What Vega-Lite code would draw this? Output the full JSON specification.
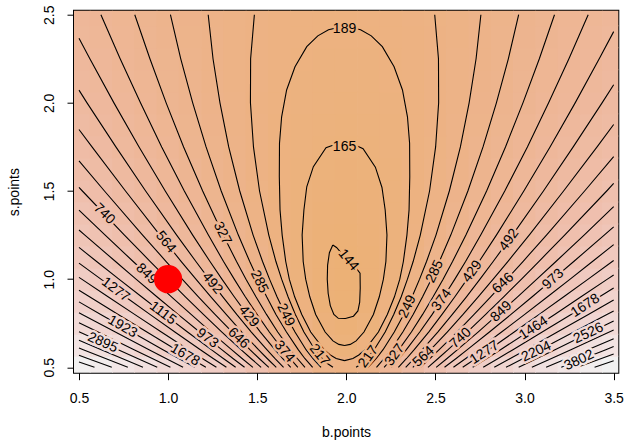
{
"$schema":"https://vega.github.io/schema/vega-lite/v6.json",
"width":544.3,"height":362,
"autosize":{"type":"none"},
"padding":{"left":74,"top":10.7,"right":6.7,"bottom":71.3},
"background":"white",
"config":{
 "font":"Liberation Sans",
 "view":{"stroke":"black","strokeWidth":2},
 "axis":{"grid":false,"domain":false,"tickSize":7,"tickColor":"black","tickWidth":1,"labelColor":"black","labelFontSize":14,"labelFont":"Liberation Sans","titleFont":"Liberation Sans","titleFontSize":14,"titleFontWeight":"normal","titleColor":"black","labelFlush":false,"labelOverlap":false},
 "style":{
  "halo":{"fontSize":14,"strokeWidth":5,"strokeJoin":"round","align":"center","baseline":"middle"},
  "lab":{"fontSize":14,"fill":"black","align":"center","baseline":"middle"}
 }
},
"datasets":{
"grid":[
{"b":0.5,"s":0.5,"z":5606},{"b":0.625,"s":0.5,"z":4738},{"b":0.75,"s":0.5,"z":3946},{"b":0.875,"s":0.5,"z":3230},{"b":1,"s":0.5,"z":2590},{"b":1.125,"s":0.5,"z":2026},{"b":1.25,"s":0.5,"z":1539},{"b":1.375,"s":0.5,"z":1127},{"b":1.5,"s":0.5,"z":791},{"b":1.625,"s":0.5,"z":531},{"b":1.75,"s":0.5,"z":347},{"b":1.875,"s":0.5,"z":239},{"b":2,"s":0.5,"z":207},{"b":2.125,"s":0.5,"z":251},{"b":2.25,"s":0.5,"z":371},{"b":2.375,"s":0.5,"z":567},{"b":2.5,"s":0.5,"z":839},{"b":2.625,"s":0.5,"z":1187},{"b":2.75,"s":0.5,"z":1612},{"b":2.875,"s":0.5,"z":2112},{"b":3,"s":0.5,"z":2688},{"b":3.125,"s":0.5,"z":3340},{"b":3.25,"s":0.5,"z":4068},{"b":3.375,"s":0.5,"z":4872},{"b":3.5,"s":0.5,"z":5752},
{"b":0.5,"s":0.625,"z":3620},{"b":0.625,"s":0.625,"z":3065},{"b":0.75,"s":0.625,"z":2558},{"b":0.875,"s":0.625,"z":2100},{"b":1,"s":0.625,"z":1690},{"b":1.125,"s":0.625,"z":1329},{"b":1.25,"s":0.625,"z":1017},{"b":1.375,"s":0.625,"z":753},{"b":1.5,"s":0.625,"z":538},{"b":1.625,"s":0.625,"z":372},{"b":1.75,"s":0.625,"z":254},{"b":1.875,"s":0.625,"z":185},{"b":2,"s":0.625,"z":165},{"b":2.125,"s":0.625,"z":193},{"b":2.25,"s":0.625,"z":270},{"b":2.375,"s":0.625,"z":395},{"b":2.5,"s":0.625,"z":570},{"b":2.625,"s":0.625,"z":792},{"b":2.75,"s":0.625,"z":1064},{"b":2.875,"s":0.625,"z":1384},{"b":3,"s":0.625,"z":1752},{"b":3.125,"s":0.625,"z":2170},{"b":3.25,"s":0.625,"z":2636},{"b":3.375,"s":0.625,"z":3150},{"b":3.5,"s":0.625,"z":3714},
{"b":0.5,"s":0.75,"z":2548},{"b":0.625,"s":0.75,"z":2162},{"b":0.75,"s":0.75,"z":1810},{"b":0.875,"s":0.75,"z":1492},{"b":1,"s":0.75,"z":1207},{"b":1.125,"s":0.75,"z":957},{"b":1.25,"s":0.75,"z":740},{"b":1.375,"s":0.75,"z":557},{"b":1.5,"s":0.75,"z":407},{"b":1.625,"s":0.75,"z":292},{"b":1.75,"s":0.75,"z":210},{"b":1.875,"s":0.75,"z":162},{"b":2,"s":0.75,"z":148},{"b":2.125,"s":0.75,"z":168},{"b":2.25,"s":0.75,"z":221},{"b":2.375,"s":0.75,"z":308},{"b":2.5,"s":0.75,"z":429},{"b":2.625,"s":0.75,"z":584},{"b":2.75,"s":0.75,"z":772},{"b":2.875,"s":0.75,"z":994},{"b":3,"s":0.75,"z":1250},{"b":3.125,"s":0.75,"z":1540},{"b":3.25,"s":0.75,"z":1864},{"b":3.375,"s":0.75,"z":2221},{"b":3.5,"s":0.75,"z":2612},
{"b":0.5,"s":0.875,"z":1905},{"b":0.625,"s":0.875,"z":1621},{"b":0.75,"s":0.875,"z":1363},{"b":0.875,"s":0.875,"z":1129},{"b":1,"s":0.875,"z":920},{"b":1.125,"s":0.875,"z":736},{"b":1.25,"s":0.875,"z":577},{"b":1.375,"s":0.875,"z":442},{"b":1.5,"s":0.875,"z":332},{"b":1.625,"s":0.875,"z":248},{"b":1.75,"s":0.875,"z":188},{"b":1.875,"s":0.875,"z":152},{"b":2,"s":0.875,"z":142},{"b":2.125,"s":0.875,"z":156},{"b":2.25,"s":0.875,"z":196},{"b":2.375,"s":0.875,"z":260},{"b":2.5,"s":0.875,"z":348},{"b":2.625,"s":0.875,"z":462},{"b":2.75,"s":0.875,"z":601},{"b":2.875,"s":0.875,"z":764},{"b":3,"s":0.875,"z":952},{"b":3.125,"s":0.875,"z":1165},{"b":3.25,"s":0.875,"z":1403},{"b":3.375,"s":0.875,"z":1665},{"b":3.5,"s":0.875,"z":1952},
{"b":0.5,"s":1,"z":1491},{"b":0.625,"s":1,"z":1274},{"b":0.75,"s":1,"z":1076},{"b":0.875,"s":1,"z":897},{"b":1,"s":1,"z":737},{"b":1.125,"s":1,"z":596},{"b":1.25,"s":1,"z":474},{"b":1.375,"s":1,"z":371},{"b":1.5,"s":1,"z":287},{"b":1.625,"s":1,"z":222},{"b":1.75,"s":1,"z":176},{"b":1.875,"s":1,"z":149},{"b":2,"s":1,"z":141},{"b":2.125,"s":1,"z":152},{"b":2.25,"s":1,"z":182},{"b":2.375,"s":1,"z":231},{"b":2.5,"s":1,"z":299},{"b":2.625,"s":1,"z":386},{"b":2.75,"s":1,"z":492},{"b":2.875,"s":1,"z":617},{"b":3,"s":1,"z":761},{"b":3.125,"s":1,"z":924},{"b":3.25,"s":1,"z":1106},{"b":3.375,"s":1,"z":1307},{"b":3.5,"s":1,"z":1527},
{"b":0.5,"s":1.125,"z":1210},{"b":0.625,"s":1.125,"z":1038},{"b":0.75,"s":1.125,"z":882},{"b":0.875,"s":1.125,"z":740},{"b":1,"s":1.125,"z":614},{"b":1.125,"s":1.125,"z":503},{"b":1.25,"s":1.125,"z":406},{"b":1.375,"s":1.125,"z":325},{"b":1.5,"s":1.125,"z":259},{"b":1.625,"s":1.125,"z":207},{"b":1.75,"s":1.125,"z":171},{"b":1.875,"s":1.125,"z":150},{"b":2,"s":1.125,"z":143},{"b":2.125,"s":1.125,"z":152},{"b":2.25,"s":1.125,"z":176},{"b":2.375,"s":1.125,"z":214},{"b":2.5,"s":1.125,"z":268},{"b":2.625,"s":1.125,"z":337},{"b":2.75,"s":1.125,"z":421},{"b":2.875,"s":1.125,"z":520},{"b":3,"s":1.125,"z":633},{"b":3.125,"s":1.125,"z":762},{"b":3.25,"s":1.125,"z":906},{"b":3.375,"s":1.125,"z":1065},{"b":3.5,"s":1.125,"z":1239},
{"b":0.5,"s":1.25,"z":1011},{"b":0.625,"s":1.25,"z":872},{"b":0.75,"s":1.25,"z":745},{"b":0.875,"s":1.25,"z":630},{"b":1,"s":1.25,"z":528},{"b":1.125,"s":1.25,"z":438},{"b":1.25,"s":1.25,"z":360},{"b":1.375,"s":1.25,"z":294},{"b":1.5,"s":1.25,"z":240},{"b":1.625,"s":1.25,"z":199},{"b":1.75,"s":1.25,"z":169},{"b":1.875,"s":1.25,"z":152},{"b":2,"s":1.25,"z":147},{"b":2.125,"s":1.25,"z":154},{"b":2.25,"s":1.25,"z":173},{"b":2.375,"s":1.25,"z":204},{"b":2.5,"s":1.25,"z":248},{"b":2.625,"s":1.25,"z":304},{"b":2.75,"s":1.25,"z":371},{"b":2.875,"s":1.25,"z":451},{"b":3,"s":1.25,"z":544},{"b":3.125,"s":1.25,"z":648},{"b":3.25,"s":1.25,"z":764},{"b":3.375,"s":1.25,"z":893},{"b":3.5,"s":1.25,"z":1034},
{"b":0.5,"s":1.375,"z":865},{"b":0.625,"s":1.375,"z":750},{"b":0.75,"s":1.375,"z":645},{"b":0.875,"s":1.375,"z":551},{"b":1,"s":1.375,"z":466},{"b":1.125,"s":1.375,"z":392},{"b":1.25,"s":1.375,"z":327},{"b":1.375,"s":1.375,"z":273},{"b":1.5,"s":1.375,"z":228},{"b":1.625,"s":1.375,"z":194},{"b":1.75,"s":1.375,"z":169},{"b":1.875,"s":1.375,"z":155},{"b":2,"s":1.375,"z":151},{"b":2.125,"s":1.375,"z":157},{"b":2.25,"s":1.375,"z":173},{"b":2.375,"s":1.375,"z":199},{"b":2.5,"s":1.375,"z":235},{"b":2.625,"s":1.375,"z":281},{"b":2.75,"s":1.375,"z":337},{"b":2.875,"s":1.375,"z":403},{"b":3,"s":1.375,"z":479},{"b":3.125,"s":1.375,"z":565},{"b":3.25,"s":1.375,"z":662},{"b":3.375,"s":1.375,"z":768},{"b":3.5,"s":1.375,"z":884},
{"b":0.5,"s":1.5,"z":756},{"b":0.625,"s":1.5,"z":659},{"b":0.75,"s":1.5,"z":571},{"b":0.875,"s":1.5,"z":492},{"b":1,"s":1.5,"z":420},{"b":1.125,"s":1.5,"z":358},{"b":1.25,"s":1.5,"z":304},{"b":1.375,"s":1.5,"z":258},{"b":1.5,"s":1.5,"z":221},{"b":1.625,"s":1.5,"z":192},{"b":1.75,"s":1.5,"z":171},{"b":1.875,"s":1.5,"z":159},{"b":2,"s":1.5,"z":156},{"b":2.125,"s":1.5,"z":161},{"b":2.25,"s":1.5,"z":174},{"b":2.375,"s":1.5,"z":196},{"b":2.5,"s":1.5,"z":226},{"b":2.625,"s":1.5,"z":265},{"b":2.75,"s":1.5,"z":312},{"b":2.875,"s":1.5,"z":367},{"b":3,"s":1.5,"z":431},{"b":3.125,"s":1.5,"z":504},{"b":3.25,"s":1.5,"z":585},{"b":3.375,"s":1.5,"z":674},{"b":3.5,"s":1.5,"z":772},
{"b":0.5,"s":1.625,"z":672},{"b":0.625,"s":1.625,"z":589},{"b":0.75,"s":1.625,"z":514},{"b":0.875,"s":1.625,"z":447},{"b":1,"s":1.625,"z":386},{"b":1.125,"s":1.625,"z":333},{"b":1.25,"s":1.625,"z":286},{"b":1.375,"s":1.625,"z":247},{"b":1.5,"s":1.625,"z":216},{"b":1.625,"s":1.625,"z":191},{"b":1.75,"s":1.625,"z":174},{"b":1.875,"s":1.625,"z":163},{"b":2,"s":1.625,"z":160},{"b":2.125,"s":1.625,"z":165},{"b":2.25,"s":1.625,"z":176},{"b":2.375,"s":1.625,"z":195},{"b":2.5,"s":1.625,"z":220},{"b":2.625,"s":1.625,"z":253},{"b":2.75,"s":1.625,"z":293},{"b":2.875,"s":1.625,"z":341},{"b":3,"s":1.625,"z":395},{"b":3.125,"s":1.625,"z":457},{"b":3.25,"s":1.625,"z":526},{"b":3.375,"s":1.625,"z":602},{"b":3.5,"s":1.625,"z":685},
{"b":0.5,"s":1.75,"z":606},{"b":0.625,"s":1.75,"z":535},{"b":0.75,"s":1.75,"z":470},{"b":0.875,"s":1.75,"z":412},{"b":1,"s":1.75,"z":360},{"b":1.125,"s":1.75,"z":314},{"b":1.25,"s":1.75,"z":274},{"b":1.375,"s":1.75,"z":240},{"b":1.5,"s":1.75,"z":213},{"b":1.625,"s":1.75,"z":192},{"b":1.75,"s":1.75,"z":177},{"b":1.875,"s":1.75,"z":168},{"b":2,"s":1.75,"z":165},{"b":2.125,"s":1.75,"z":169},{"b":2.25,"s":1.75,"z":179},{"b":2.375,"s":1.75,"z":195},{"b":2.5,"s":1.75,"z":217},{"b":2.625,"s":1.75,"z":245},{"b":2.75,"s":1.75,"z":280},{"b":2.875,"s":1.75,"z":321},{"b":3,"s":1.75,"z":368},{"b":3.125,"s":1.75,"z":421},{"b":3.25,"s":1.75,"z":480},{"b":3.375,"s":1.75,"z":546},{"b":3.5,"s":1.75,"z":618},
{"b":0.5,"s":1.875,"z":554},{"b":0.625,"s":1.875,"z":492},{"b":0.75,"s":1.875,"z":436},{"b":0.875,"s":1.875,"z":385},{"b":1,"s":1.875,"z":340},{"b":1.125,"s":1.875,"z":299},{"b":1.25,"s":1.875,"z":265},{"b":1.375,"s":1.875,"z":235},{"b":1.5,"s":1.875,"z":212},{"b":1.625,"s":1.875,"z":193},{"b":1.75,"s":1.875,"z":180},{"b":1.875,"s":1.875,"z":172},{"b":2,"s":1.875,"z":170},{"b":2.125,"s":1.875,"z":173},{"b":2.25,"s":1.875,"z":182},{"b":2.375,"s":1.875,"z":196},{"b":2.5,"s":1.875,"z":215},{"b":2.625,"s":1.875,"z":240},{"b":2.75,"s":1.875,"z":270},{"b":2.875,"s":1.875,"z":305},{"b":3,"s":1.875,"z":346},{"b":3.125,"s":1.875,"z":393},{"b":3.25,"s":1.875,"z":445},{"b":3.375,"s":1.875,"z":502},{"b":3.5,"s":1.875,"z":564},
{"b":0.5,"s":2,"z":512},{"b":0.625,"s":2,"z":458},{"b":0.75,"s":2,"z":408},{"b":0.875,"s":2,"z":364},{"b":1,"s":2,"z":324},{"b":1.125,"s":2,"z":288},{"b":1.25,"s":2,"z":258},{"b":1.375,"s":2,"z":232},{"b":1.5,"s":2,"z":211},{"b":1.625,"s":2,"z":195},{"b":1.75,"s":2,"z":183},{"b":1.875,"s":2,"z":177},{"b":2,"s":2,"z":175},{"b":2.125,"s":2,"z":177},{"b":2.25,"s":2,"z":185},{"b":2.375,"s":2,"z":197},{"b":2.5,"s":2,"z":214},{"b":2.625,"s":2,"z":236},{"b":2.75,"s":2,"z":262},{"b":2.875,"s":2,"z":294},{"b":3,"s":2,"z":330},{"b":3.125,"s":2,"z":370},{"b":3.25,"s":2,"z":416},{"b":3.375,"s":2,"z":466},{"b":3.5,"s":2,"z":521},
{"b":0.5,"s":2.125,"z":478},{"b":0.625,"s":2.125,"z":430},{"b":0.75,"s":2.125,"z":386},{"b":0.875,"s":2.125,"z":347},{"b":1,"s":2.125,"z":311},{"b":1.125,"s":2.125,"z":280},{"b":1.25,"s":2.125,"z":253},{"b":1.375,"s":2.125,"z":230},{"b":1.5,"s":2.125,"z":212},{"b":1.625,"s":2.125,"z":197},{"b":1.75,"s":2.125,"z":187},{"b":1.875,"s":2.125,"z":181},{"b":2,"s":2.125,"z":179},{"b":2.125,"s":2.125,"z":182},{"b":2.25,"s":2.125,"z":188},{"b":2.375,"s":2.125,"z":199},{"b":2.5,"s":2.125,"z":214},{"b":2.625,"s":2.125,"z":234},{"b":2.75,"s":2.125,"z":257},{"b":2.875,"s":2.125,"z":285},{"b":3,"s":2.125,"z":317},{"b":3.125,"s":2.125,"z":353},{"b":3.25,"s":2.125,"z":393},{"b":3.375,"s":2.125,"z":437},{"b":3.5,"s":2.125,"z":486},
{"b":0.5,"s":2.25,"z":450},{"b":0.625,"s":2.25,"z":407},{"b":0.75,"s":2.25,"z":368},{"b":0.875,"s":2.25,"z":333},{"b":1,"s":2.25,"z":301},{"b":1.125,"s":2.25,"z":274},{"b":1.25,"s":2.25,"z":249},{"b":1.375,"s":2.25,"z":229},{"b":1.5,"s":2.25,"z":212},{"b":1.625,"s":2.25,"z":200},{"b":1.75,"s":2.25,"z":191},{"b":1.875,"s":2.25,"z":185},{"b":2,"s":2.25,"z":184},{"b":2.125,"s":2.25,"z":186},{"b":2.25,"s":2.25,"z":192},{"b":2.375,"s":2.25,"z":201},{"b":2.5,"s":2.25,"z":215},{"b":2.625,"s":2.25,"z":232},{"b":2.75,"s":2.25,"z":253},{"b":2.875,"s":2.25,"z":278},{"b":3,"s":2.25,"z":306},{"b":3.125,"s":2.25,"z":338},{"b":3.25,"s":2.25,"z":374},{"b":3.375,"s":2.25,"z":414},{"b":3.5,"s":2.25,"z":457},
{"b":0.5,"s":2.375,"z":427},{"b":0.625,"s":2.375,"z":389},{"b":0.75,"s":2.375,"z":354},{"b":0.875,"s":2.375,"z":322},{"b":1,"s":2.375,"z":294},{"b":1.125,"s":2.375,"z":269},{"b":1.25,"s":2.375,"z":247},{"b":1.375,"s":2.375,"z":229},{"b":1.5,"s":2.375,"z":214},{"b":1.625,"s":2.375,"z":202},{"b":1.75,"s":2.375,"z":194},{"b":1.875,"s":2.375,"z":189},{"b":2,"s":2.375,"z":188},{"b":2.125,"s":2.375,"z":190},{"b":2.25,"s":2.375,"z":195},{"b":2.375,"s":2.375,"z":204},{"b":2.5,"s":2.375,"z":216},{"b":2.625,"s":2.375,"z":231},{"b":2.75,"s":2.375,"z":250},{"b":2.875,"s":2.375,"z":272},{"b":3,"s":2.375,"z":298},{"b":3.125,"s":2.375,"z":327},{"b":3.25,"s":2.375,"z":359},{"b":3.375,"s":2.375,"z":395},{"b":3.5,"s":2.375,"z":434},
{"b":0.5,"s":2.5,"z":408},{"b":0.625,"s":2.5,"z":373},{"b":0.75,"s":2.5,"z":342},{"b":0.875,"s":2.5,"z":313},{"b":1,"s":2.5,"z":287},{"b":1.125,"s":2.5,"z":265},{"b":1.25,"s":2.5,"z":245},{"b":1.375,"s":2.5,"z":229},{"b":1.5,"s":2.5,"z":215},{"b":1.625,"s":2.5,"z":205},{"b":1.75,"s":2.5,"z":198},{"b":1.875,"s":2.5,"z":193},{"b":2,"s":2.5,"z":192},{"b":2.125,"s":2.5,"z":194},{"b":2.25,"s":2.5,"z":199},{"b":2.375,"s":2.5,"z":206},{"b":2.5,"s":2.5,"z":217},{"b":2.625,"s":2.5,"z":231},{"b":2.75,"s":2.5,"z":248},{"b":2.875,"s":2.5,"z":268},{"b":3,"s":2.5,"z":291},{"b":3.125,"s":2.5,"z":317},{"b":3.25,"s":2.5,"z":347},{"b":3.375,"s":2.5,"z":379},{"b":3.5,"s":2.5,"z":414}
],
"lines":[
{"line":"144","b":1.924,"s":1.194},{"line":"144","b":1.905,"s":1.15},{"line":"144","b":1.895,"s":1.08},{"line":"144","b":1.893,"s":1.0},{"line":"144","b":1.898,"s":0.92},{"line":"144","b":1.91,"s":0.85},{"line":"144","b":1.93,"s":0.8},{"line":"144","b":1.955,"s":0.778},{"line":"144","b":1.995,"s":0.777},{"line":"144","b":2.04,"s":0.79},{"line":"144","b":2.065,"s":0.82},{"line":"144","b":2.075,"s":0.87},{"line":"144","b":2.078,"s":0.95},{"line":"144","b":2.077,"s":1.034},{"line":"144","b":2.045,"s":1.075},{"line":"144","b":2.011,"s":1.109},{"line":"144","b":1.97,"s":1.15},{"line":"144","b":1.945,"s":1.18},{"line":"144","b":1.924,"s":1.194},
{"line":"165","b":1.99,"s":0.624},{"line":"165","b":1.958,"s":0.63},{"line":"165","b":1.925,"s":0.65},{"line":"165","b":1.881,"s":0.7},{"line":"165","b":1.828,"s":0.8},{"line":"165","b":1.795,"s":0.9},{"line":"165","b":1.772,"s":1.0},{"line":"165","b":1.758,"s":1.1},{"line":"165","b":1.752,"s":1.25},{"line":"165","b":1.762,"s":1.392},{"line":"165","b":1.778,"s":1.524},{"line":"165","b":1.815,"s":1.638},{"line":"165","b":1.886,"s":1.745},{"line":"165","b":1.94,"s":1.765},{"line":"165","b":1.99,"s":1.77},{"line":"165","b":2.04,"s":1.765},{"line":"165","b":2.094,"s":1.74},{"line":"165","b":2.163,"s":1.635},{"line":"165","b":2.2,"s":1.52},{"line":"165","b":2.218,"s":1.392},{"line":"165","b":2.228,"s":1.25},{"line":"165","b":2.222,"s":1.1},{"line":"165","b":2.208,"s":1.0},{"line":"165","b":2.185,"s":0.9},{"line":"165","b":2.152,"s":0.8},{"line":"165","b":2.099,"s":0.7},{"line":"165","b":2.055,"s":0.65},{"line":"165","b":2.022,"s":0.63},{"line":"165","b":1.99,"s":0.624},
{"line":"189","b":1.99,"s":0.538},{"line":"189","b":1.943,"s":0.55},{"line":"189","b":1.91,"s":0.57},{"line":"189","b":1.875,"s":0.6},{"line":"189","b":1.8,"s":0.7},{"line":"189","b":1.75,"s":0.8},{"line":"189","b":1.71,"s":0.9},{"line":"189","b":1.68,"s":1.0},{"line":"189","b":1.66,"s":1.1},{"line":"189","b":1.64,"s":1.25},{"line":"189","b":1.628,"s":1.393},{"line":"189","b":1.624,"s":1.581},{"line":"189","b":1.625,"s":1.771},{"line":"189","b":1.637,"s":1.921},{"line":"189","b":1.665,"s":2.073},{"line":"189","b":1.712,"s":2.205},{"line":"189","b":1.778,"s":2.319},{"line":"189","b":1.84,"s":2.38},{"line":"189","b":1.9,"s":2.415},{"line":"189","b":1.99,"s":2.435},{"line":"189","b":2.08,"s":2.415},{"line":"189","b":2.14,"s":2.38},{"line":"189","b":2.202,"s":2.319},{"line":"189","b":2.268,"s":2.205},{"line":"189","b":2.315,"s":2.073},{"line":"189","b":2.343,"s":1.921},{"line":"189","b":2.355,"s":1.771},{"line":"189","b":2.356,"s":1.581},{"line":"189","b":2.352,"s":1.393},{"line":"189","b":2.34,"s":1.25},{"line":"189","b":2.32,"s":1.1},{"line":"189","b":2.3,"s":1.0},{"line":"189","b":2.27,"s":0.9},{"line":"189","b":2.23,"s":0.8},{"line":"189","b":2.18,"s":0.7},{"line":"189","b":2.105,"s":0.6},{"line":"189","b":2.07,"s":0.57},{"line":"189","b":2.037,"s":0.55},{"line":"189","b":1.99,"s":0.538},
{"line":"217L","b":1.925,"s":0.5},{"line":"217L","b":1.896,"s":0.52},{"line":"217L","b":1.865,"s":0.55},{"line":"217L","b":1.824,"s":0.6},{"line":"217L","b":1.762,"s":0.7},{"line":"217L","b":1.714,"s":0.8},{"line":"217L","b":1.673,"s":0.9},{"line":"217L","b":1.637,"s":1},{"line":"217L","b":1.605,"s":1.1},{"line":"217L","b":1.565,"s":1.25},{"line":"217L","b":1.513,"s":1.5},{"line":"217L","b":1.479,"s":1.75},{"line":"217L","b":1.462,"s":2},{"line":"217L","b":1.463,"s":2.25},{"line":"217L","b":1.484,"s":2.5},
{"line":"217R","b":2.055,"s":0.5},{"line":"217R","b":2.084,"s":0.52},{"line":"217R","b":2.116,"s":0.55},{"line":"217R","b":2.156,"s":0.6},{"line":"217R","b":2.218,"s":0.7},{"line":"217R","b":2.266,"s":0.8},{"line":"217R","b":2.308,"s":0.9},{"line":"217R","b":2.343,"s":1},{"line":"217R","b":2.375,"s":1.1},{"line":"217R","b":2.415,"s":1.25},{"line":"217R","b":2.467,"s":1.5},{"line":"217R","b":2.501,"s":1.75},{"line":"217R","b":2.518,"s":2},{"line":"217R","b":2.517,"s":2.25},{"line":"217R","b":2.496,"s":2.5},
{"line":"249L","b":1.858,"s":0.5},{"line":"249L","b":1.812,"s":0.55},{"line":"249L","b":1.774,"s":0.6},{"line":"249L","b":1.712,"s":0.7},{"line":"249L","b":1.658,"s":0.8},{"line":"249L","b":1.611,"s":0.9},{"line":"249L","b":1.569,"s":1},{"line":"249L","b":1.53,"s":1.1},{"line":"249L","b":1.477,"s":1.25},{"line":"249L","b":1.402,"s":1.5},{"line":"249L","b":1.34,"s":1.75},{"line":"249L","b":1.291,"s":2},{"line":"249L","b":1.252,"s":2.25},{"line":"249L","b":1.225,"s":2.5},
{"line":"249R","b":2.122,"s":0.5},{"line":"249R","b":2.168,"s":0.55},{"line":"249R","b":2.206,"s":0.6},{"line":"249R","b":2.269,"s":0.7},{"line":"249R","b":2.322,"s":0.8},{"line":"249R","b":2.369,"s":0.9},{"line":"249R","b":2.411,"s":1},{"line":"249R","b":2.45,"s":1.1},{"line":"249R","b":2.503,"s":1.25},{"line":"249R","b":2.578,"s":1.5},{"line":"249R","b":2.64,"s":1.75},{"line":"249R","b":2.689,"s":2},{"line":"249R","b":2.728,"s":2.25},{"line":"249R","b":2.755,"s":2.5},
{"line":"285L","b":1.811,"s":0.5},{"line":"285L","b":1.767,"s":0.55},{"line":"285L","b":1.73,"s":0.6},{"line":"285L","b":1.664,"s":0.7},{"line":"285L","b":1.605,"s":0.8},{"line":"285L","b":1.553,"s":0.9},{"line":"285L","b":1.504,"s":1},{"line":"285L","b":1.458,"s":1.1},{"line":"285L","b":1.394,"s":1.25},{"line":"285L","b":1.298,"s":1.5},{"line":"285L","b":1.213,"s":1.75},{"line":"285L","b":1.138,"s":2},{"line":"285L","b":1.071,"s":2.25},{"line":"285L","b":1.013,"s":2.5},
{"line":"285R","b":2.169,"s":0.5},{"line":"285R","b":2.213,"s":0.55},{"line":"285R","b":2.251,"s":0.6},{"line":"285R","b":2.317,"s":0.7},{"line":"285R","b":2.375,"s":0.8},{"line":"285R","b":2.428,"s":0.9},{"line":"285R","b":2.477,"s":1},{"line":"285R","b":2.522,"s":1.1},{"line":"285R","b":2.586,"s":1.25},{"line":"285R","b":2.682,"s":1.5},{"line":"285R","b":2.767,"s":1.75},{"line":"285R","b":2.842,"s":2},{"line":"285R","b":2.909,"s":2.25},{"line":"285R","b":2.967,"s":2.5},
{"line":"327L","b":1.768,"s":0.5},{"line":"327L","b":1.725,"s":0.55},{"line":"327L","b":1.686,"s":0.6},{"line":"327L","b":1.615,"s":0.7},{"line":"327L","b":1.552,"s":0.8},{"line":"327L","b":1.493,"s":0.9},{"line":"327L","b":1.437,"s":1},{"line":"327L","b":1.384,"s":1.1},{"line":"327L","b":1.309,"s":1.25},{"line":"327L","b":1.194,"s":1.5},{"line":"327L","b":1.087,"s":1.75},{"line":"327L","b":0.989,"s":2},{"line":"327L","b":0.898,"s":2.25},{"line":"327L","b":0.813,"s":2.5},
{"line":"327R","b":2.212,"s":0.5},{"line":"327R","b":2.256,"s":0.55},{"line":"327R","b":2.295,"s":0.6},{"line":"327R","b":2.365,"s":0.7},{"line":"327R","b":2.428,"s":0.8},{"line":"327R","b":2.487,"s":0.9},{"line":"327R","b":2.543,"s":1},{"line":"327R","b":2.596,"s":1.1},{"line":"327R","b":2.671,"s":1.25},{"line":"327R","b":2.787,"s":1.5},{"line":"327R","b":2.893,"s":1.75},{"line":"327R","b":2.991,"s":2},{"line":"327R","b":3.083,"s":2.25},{"line":"327R","b":3.168,"s":2.5},
{"line":"374L","b":1.728,"s":0.5},{"line":"374L","b":1.684,"s":0.55},{"line":"374L","b":1.643,"s":0.6},{"line":"374L","b":1.568,"s":0.7},{"line":"374L","b":1.499,"s":0.8},{"line":"374L","b":1.433,"s":0.9},{"line":"374L","b":1.371,"s":1},{"line":"374L","b":1.311,"s":1.1},{"line":"374L","b":1.226,"s":1.25},{"line":"374L","b":1.091,"s":1.5},{"line":"374L","b":0.964,"s":1.75},{"line":"374L","b":0.845,"s":2},{"line":"374L","b":0.731,"s":2.25},{"line":"374L","b":0.623,"s":2.5},
{"line":"374R","b":2.252,"s":0.5},{"line":"374R","b":2.296,"s":0.55},{"line":"374R","b":2.337,"s":0.6},{"line":"374R","b":2.412,"s":0.7},{"line":"374R","b":2.482,"s":0.8},{"line":"374R","b":2.547,"s":0.9},{"line":"374R","b":2.609,"s":1},{"line":"374R","b":2.669,"s":1.1},{"line":"374R","b":2.754,"s":1.25},{"line":"374R","b":2.889,"s":1.5},{"line":"374R","b":3.016,"s":1.75},{"line":"374R","b":3.135,"s":2},{"line":"374R","b":3.249,"s":2.25},{"line":"374R","b":3.357,"s":2.5},
{"line":"429L","b":1.688,"s":0.5},{"line":"429L","b":1.642,"s":0.55},{"line":"429L","b":1.599,"s":0.6},{"line":"429L","b":1.518,"s":0.7},{"line":"429L","b":1.443,"s":0.8},{"line":"429L","b":1.371,"s":0.9},{"line":"429L","b":1.302,"s":1},{"line":"429L","b":1.235,"s":1.1},{"line":"429L","b":1.138,"s":1.25},{"line":"429L","b":0.984,"s":1.5},{"line":"429L","b":0.837,"s":1.75},{"line":"429L","b":0.696,"s":2},{"line":"429L","b":0.561,"s":2.25},{"line":"429L","b":0.5,"s":2.366},
{"line":"429R","b":2.292,"s":0.5},{"line":"429R","b":2.338,"s":0.55},{"line":"429R","b":2.381,"s":0.6},{"line":"429R","b":2.462,"s":0.7},{"line":"429R","b":2.537,"s":0.8},{"line":"429R","b":2.609,"s":0.9},{"line":"429R","b":2.678,"s":1},{"line":"429R","b":2.745,"s":1.1},{"line":"429R","b":2.842,"s":1.25},{"line":"429R","b":2.996,"s":1.5},{"line":"429R","b":3.143,"s":1.75},{"line":"429R","b":3.284,"s":2},{"line":"429R","b":3.419,"s":2.25},{"line":"429R","b":3.5,"s":2.404},
{"line":"492L","b":1.648,"s":0.5},{"line":"492L","b":1.599,"s":0.55},{"line":"492L","b":1.554,"s":0.6},{"line":"492L","b":1.467,"s":0.7},{"line":"492L","b":1.385,"s":0.8},{"line":"492L","b":1.307,"s":0.9},{"line":"492L","b":1.23,"s":1},{"line":"492L","b":1.156,"s":1.1},{"line":"492L","b":1.048,"s":1.25},{"line":"492L","b":0.874,"s":1.5},{"line":"492L","b":0.707,"s":1.75},{"line":"492L","b":0.545,"s":2},{"line":"492L","b":0.5,"s":2.072},
{"line":"492R","b":2.333,"s":0.5},{"line":"492R","b":2.381,"s":0.55},{"line":"492R","b":2.426,"s":0.6},{"line":"492R","b":2.513,"s":0.7},{"line":"492R","b":2.595,"s":0.8},{"line":"492R","b":2.674,"s":0.9},{"line":"492R","b":2.75,"s":1},{"line":"492R","b":2.824,"s":1.1},{"line":"492R","b":2.932,"s":1.25},{"line":"492R","b":3.106,"s":1.5},{"line":"492R","b":3.273,"s":1.75},{"line":"492R","b":3.435,"s":2},{"line":"492R","b":3.5,"s":2.103},
{"line":"564L","b":1.607,"s":0.5},{"line":"564L","b":1.556,"s":0.55},{"line":"564L","b":1.507,"s":0.6},{"line":"564L","b":1.414,"s":0.7},{"line":"564L","b":1.326,"s":0.8},{"line":"564L","b":1.24,"s":0.9},{"line":"564L","b":1.156,"s":1},{"line":"564L","b":1.074,"s":1.1},{"line":"564L","b":0.954,"s":1.25},{"line":"564L","b":0.761,"s":1.5},{"line":"564L","b":0.573,"s":1.75},{"line":"564L","b":0.5,"s":1.849},
{"line":"564R","b":2.373,"s":0.5},{"line":"564R","b":2.424,"s":0.55},{"line":"564R","b":2.473,"s":0.6},{"line":"564R","b":2.566,"s":0.7},{"line":"564R","b":2.655,"s":0.8},{"line":"564R","b":2.74,"s":0.9},{"line":"564R","b":2.824,"s":1},{"line":"564R","b":2.906,"s":1.1},{"line":"564R","b":3.026,"s":1.25},{"line":"564R","b":3.219,"s":1.5},{"line":"564R","b":3.407,"s":1.75},{"line":"564R","b":3.5,"s":1.877},
{"line":"646L","b":1.565,"s":0.5},{"line":"646L","b":1.511,"s":0.55},{"line":"646L","b":1.459,"s":0.6},{"line":"646L","b":1.36,"s":0.7},{"line":"646L","b":1.263,"s":0.8},{"line":"646L","b":1.17,"s":0.9},{"line":"646L","b":1.079,"s":1},{"line":"646L","b":0.989,"s":1.1},{"line":"646L","b":0.857,"s":1.25},{"line":"646L","b":0.643,"s":1.5},{"line":"646L","b":0.5,"s":1.671},
{"line":"646R","b":2.415,"s":0.5},{"line":"646R","b":2.469,"s":0.55},{"line":"646R","b":2.521,"s":0.6},{"line":"646R","b":2.621,"s":0.7},{"line":"646R","b":2.717,"s":0.8},{"line":"646R","b":2.81,"s":0.9},{"line":"646R","b":2.901,"s":1},{"line":"646R","b":2.991,"s":1.1},{"line":"646R","b":3.123,"s":1.25},{"line":"646R","b":3.337,"s":1.5},{"line":"646R","b":3.5,"s":1.695},
{"line":"740L","b":1.522,"s":0.5},{"line":"740L","b":1.465,"s":0.55},{"line":"740L","b":1.409,"s":0.6},{"line":"740L","b":1.302,"s":0.7},{"line":"740L","b":1.198,"s":0.8},{"line":"740L","b":1.097,"s":0.9},{"line":"740L","b":0.998,"s":1},{"line":"740L","b":0.9,"s":1.1},{"line":"740L","b":0.755,"s":1.25},{"line":"740L","b":0.519,"s":1.5},{"line":"740L","b":0.5,"s":1.521},
{"line":"740R","b":2.458,"s":0.5},{"line":"740R","b":2.515,"s":0.55},{"line":"740R","b":2.571,"s":0.6},{"line":"740R","b":2.678,"s":0.7},{"line":"740R","b":2.782,"s":0.8},{"line":"740R","b":2.883,"s":0.9},{"line":"740R","b":2.983,"s":1},{"line":"740R","b":3.08,"s":1.1},{"line":"740R","b":3.225,"s":1.25},{"line":"740R","b":3.461,"s":1.5},{"line":"740R","b":3.5,"s":1.543},
{"line":"849L","b":1.476,"s":0.5},{"line":"849L","b":1.415,"s":0.55},{"line":"849L","b":1.356,"s":0.6},{"line":"849L","b":1.241,"s":0.7},{"line":"849L","b":1.129,"s":0.8},{"line":"849L","b":1.019,"s":0.9},{"line":"849L","b":0.911,"s":1},{"line":"849L","b":0.804,"s":1.1},{"line":"849L","b":0.647,"s":1.25},{"line":"849L","b":0.5,"s":1.392},
{"line":"849R","b":2.504,"s":0.5},{"line":"849R","b":2.565,"s":0.55},{"line":"849R","b":2.624,"s":0.6},{"line":"849R","b":2.739,"s":0.7},{"line":"849R","b":2.851,"s":0.8},{"line":"849R","b":2.961,"s":0.9},{"line":"849R","b":3.069,"s":1},{"line":"849R","b":3.176,"s":1.1},{"line":"849R","b":3.334,"s":1.25},{"line":"849R","b":3.5,"s":1.411},
{"line":"973L","b":1.429,"s":0.5},{"line":"973L","b":1.364,"s":0.55},{"line":"973L","b":1.301,"s":0.6},{"line":"973L","b":1.177,"s":0.7},{"line":"973L","b":1.056,"s":0.8},{"line":"973L","b":0.937,"s":0.9},{"line":"973L","b":0.82,"s":1},{"line":"973L","b":0.705,"s":1.1},{"line":"973L","b":0.533,"s":1.25},{"line":"973L","b":0.5,"s":1.279},
{"line":"973R","b":2.551,"s":0.5},{"line":"973R","b":2.616,"s":0.55},{"line":"973R","b":2.679,"s":0.6},{"line":"973R","b":2.803,"s":0.7},{"line":"973R","b":2.924,"s":0.8},{"line":"973R","b":3.043,"s":0.9},{"line":"973R","b":3.16,"s":1},{"line":"973R","b":3.276,"s":1.1},{"line":"973R","b":3.447,"s":1.25},{"line":"973R","b":3.5,"s":1.297},
{"line":"1115L","b":1.379,"s":0.5},{"line":"1115L","b":1.31,"s":0.55},{"line":"1115L","b":1.242,"s":0.6},{"line":"1115L","b":1.109,"s":0.7},{"line":"1115L","b":0.979,"s":0.8},{"line":"1115L","b":0.851,"s":0.9},{"line":"1115L","b":0.724,"s":1},{"line":"1115L","b":0.599,"s":1.1},{"line":"1115L","b":0.5,"s":1.18},
{"line":"1115R","b":2.601,"s":0.5},{"line":"1115R","b":2.67,"s":0.55},{"line":"1115R","b":2.738,"s":0.6},{"line":"1115R","b":2.871,"s":0.7},{"line":"1115R","b":3.001,"s":0.8},{"line":"1115R","b":3.129,"s":0.9},{"line":"1115R","b":3.256,"s":1},{"line":"1115R","b":3.381,"s":1.1},{"line":"1115R","b":3.5,"s":1.196},
{"line":"1277L","b":1.327,"s":0.5},{"line":"1277L","b":1.253,"s":0.55},{"line":"1277L","b":1.181,"s":0.6},{"line":"1277L","b":1.038,"s":0.7},{"line":"1277L","b":0.898,"s":0.8},{"line":"1277L","b":0.76,"s":0.9},{"line":"1277L","b":0.623,"s":1},{"line":"1277L","b":0.5,"s":1.091},
{"line":"1277R","b":2.653,"s":0.5},{"line":"1277R","b":2.727,"s":0.55},{"line":"1277R","b":2.8,"s":0.6},{"line":"1277R","b":2.942,"s":0.7},{"line":"1277R","b":3.082,"s":0.8},{"line":"1277R","b":3.22,"s":0.9},{"line":"1277R","b":3.357,"s":1},{"line":"1277R","b":3.5,"s":1.106},
{"line":"1464L","b":1.271,"s":0.5},{"line":"1464L","b":1.192,"s":0.55},{"line":"1464L","b":1.115,"s":0.6},{"line":"1464L","b":0.962,"s":0.7},{"line":"1464L","b":0.812,"s":0.8},{"line":"1464L","b":0.663,"s":0.9},{"line":"1464L","b":0.515,"s":1},{"line":"1464L","b":0.5,"s":1.01},
{"line":"1464R","b":2.709,"s":0.5},{"line":"1464R","b":2.788,"s":0.55},{"line":"1464R","b":2.865,"s":0.6},{"line":"1464R","b":3.018,"s":0.7},{"line":"1464R","b":3.169,"s":0.8},{"line":"1464R","b":3.317,"s":0.9},{"line":"1464R","b":3.465,"s":1},{"line":"1464R","b":3.5,"s":1.024},
{"line":"1678L","b":1.212,"s":0.5},{"line":"1678L","b":1.128,"s":0.55},{"line":"1678L","b":1.045,"s":0.6},{"line":"1678L","b":0.881,"s":0.7},{"line":"1678L","b":0.72,"s":0.8},{"line":"1678L","b":0.559,"s":0.9},{"line":"1678L","b":0.5,"s":0.937},
{"line":"1678R","b":2.768,"s":0.5},{"line":"1678R","b":2.852,"s":0.55},{"line":"1678R","b":2.935,"s":0.6},{"line":"1678R","b":3.099,"s":0.7},{"line":"1678R","b":3.261,"s":0.8},{"line":"1678R","b":3.421,"s":0.9},{"line":"1678R","b":3.5,"s":0.95},
{"line":"1923L","b":1.15,"s":0.5},{"line":"1923L","b":1.06,"s":0.55},{"line":"1923L","b":0.971,"s":0.6},{"line":"1923L","b":0.796,"s":0.7},{"line":"1923L","b":0.622,"s":0.8},{"line":"1923L","b":0.5,"s":0.871},
{"line":"1923R","b":2.83,"s":0.5},{"line":"1923R","b":2.92,"s":0.55},{"line":"1923R","b":3.009,"s":0.6},{"line":"1923R","b":3.184,"s":0.7},{"line":"1923R","b":3.358,"s":0.8},{"line":"1923R","b":3.5,"s":0.882},
{"line":"2204L","b":1.084,"s":0.5},{"line":"2204L","b":0.988,"s":0.55},{"line":"2204L","b":0.893,"s":0.6},{"line":"2204L","b":0.704,"s":0.7},{"line":"2204L","b":0.518,"s":0.8},{"line":"2204L","b":0.5,"s":0.81},
{"line":"2204R","b":2.896,"s":0.5},{"line":"2204R","b":2.992,"s":0.55},{"line":"2204R","b":3.087,"s":0.6},{"line":"2204R","b":3.276,"s":0.7},{"line":"2204R","b":3.462,"s":0.8},{"line":"2204R","b":3.5,"s":0.82},
{"line":"2526L","b":1.013,"s":0.5},{"line":"2526L","b":0.911,"s":0.55},{"line":"2526L","b":0.809,"s":0.6},{"line":"2526L","b":0.607,"s":0.7},{"line":"2526L","b":0.5,"s":0.753},
{"line":"2526R","b":2.967,"s":0.5},{"line":"2526R","b":3.069,"s":0.55},{"line":"2526R","b":3.171,"s":0.6},{"line":"2526R","b":3.373,"s":0.7},{"line":"2526R","b":3.5,"s":0.763},
{"line":"2895L","b":0.939,"s":0.5},{"line":"2895L","b":0.829,"s":0.55},{"line":"2895L","b":0.72,"s":0.6},{"line":"2895L","b":0.611,"s":0.65},{"line":"2895L","b":0.5,"s":0.702},
{"line":"2895R","b":3.041,"s":0.5},{"line":"2895R","b":3.151,"s":0.55},{"line":"2895R","b":3.26,"s":0.6},{"line":"2895R","b":3.369,"s":0.65},{"line":"2895R","b":3.5,"s":0.711},
{"line":"3318L","b":0.859,"s":0.5},{"line":"3318L","b":0.742,"s":0.55},{"line":"3318L","b":0.625,"s":0.6},{"line":"3318L","b":0.5,"s":0.654},
{"line":"3318R","b":3.121,"s":0.5},{"line":"3318R","b":3.238,"s":0.55},{"line":"3318R","b":3.355,"s":0.6},{"line":"3318R","b":3.5,"s":0.662},
{"line":"3802L","b":0.774,"s":0.5},{"line":"3802L","b":0.649,"s":0.55},{"line":"3802L","b":0.524,"s":0.6},{"line":"3802L","b":0.5,"s":0.61},
{"line":"3802R","b":3.206,"s":0.5},{"line":"3802R","b":3.331,"s":0.55},{"line":"3802R","b":3.456,"s":0.6},{"line":"3802R","b":3.5,"s":0.618},
{"line":"4358L","b":0.684,"s":0.5},{"line":"4358L","b":0.549,"s":0.55},{"line":"4358L","b":0.5,"s":0.568},
{"line":"4358R","b":3.297,"s":0.5},{"line":"4358R","b":3.431,"s":0.55},{"line":"4358R","b":3.5,"s":0.576},
{"line":"4994L","b":0.587,"s":0.5},{"line":"4994L","b":0.5,"s":0.53},
{"line":"4994R","b":3.393,"s":0.5},{"line":"4994R","b":3.5,"s":0.537}
],
"a0":[{"lev":189,"b":1.99,"s":2.42},{"lev":165,"b":1.99,"s":1.748}],
"p24":[{"lev":2895,"b":0.633,"s":0.64}],
"p30":[{"lev":1923,"b":0.744,"s":0.73},{"lev":1678,"b":1.095,"s":0.57}],
"p37":[{"lev":1277,"b":0.705,"s":0.94},{"lev":1115,"b":0.97,"s":0.807},{"lev":973,"b":1.22,"s":0.665}],
"p44":[{"lev":849,"b":0.879,"s":1.03},{"lev":646,"b":1.395,"s":0.665},{"lev":740,"b":0.642,"s":1.37}],
"p51":[{"lev":564,"b":0.986,"s":1.21},{"lev":492,"b":1.248,"s":0.977},{"lev":429,"b":1.452,"s":0.788},{"lev":374,"b":1.652,"s":0.589},{"lev":217,"b":1.849,"s":0.57},{"lev":144,"b":2.011,"s":1.109}],
"p64":[{"lev":327,"b":1.304,"s":1.261},{"lev":285,"b":1.511,"s":0.986},{"lev":249,"b":1.66,"s":0.797}],
"m25":[{"lev":3802,"b":3.306,"s":0.54},{"lev":2204,"b":3.066,"s":0.589},{"lev":2526,"b":3.359,"s":0.693}],
"m33":[{"lev":1277,"b":2.775,"s":0.583},{"lev":1464,"b":3.051,"s":0.722},{"lev":1678,"b":3.341,"s":0.85}],
"m43":[{"lev":740,"b":2.641,"s":0.665},{"lev":849,"b":2.869,"s":0.816},{"lev":973,"b":3.16,"s":1.0},{"lev":564,"b":2.434,"s":0.56},{"lev":646,"b":2.88,"s":0.977}],
"m54":[{"lev":217,"b":2.124,"s":0.56},{"lev":327,"b":2.272,"s":0.57},{"lev":492,"b":2.913,"s":1.223},{"lev":374,"b":2.535,"s":0.882},{"lev":429,"b":2.707,"s":1.043}],
"m65":[{"lev":249,"b":2.343,"s":0.844},{"lev":285,"b":2.496,"s":1.043}]
},
"encoding":{
 "x":{"field":"b","type":"quantitative","scale":{"domain":[0.472,3.526],"nice":false,"zero":false},"axis":{"title":"b.points","values":[0.5,1,1.5,2,2.5,3,3.5],"format":".1f","labelPadding":19,"labelBaseline":"middle","titleX":272,"titleY":60,"titleAlign":"center","titleBaseline":"middle"}},
 "y":{"field":"s","type":"quantitative","scale":{"domain":[0.4694,2.5227],"nice":false,"zero":false},"axis":{"title":"s.points","values":[0.5,1,1.5,2,2.5],"format":".1f","labelAngle":-90,"labelAlign":"center","labelBaseline":"middle","labelPadding":18,"titleX":-60,"titleY":181,"titleAngle":-90,"titleAlign":"center","titleBaseline":"middle"}}
},
"layer":[
 {"data":{"name":"grid"},"mark":{"type":"square","size":530,"opacity":1,"strokeWidth":0,"clip":true},
  "encoding":{"fill":{"field":"z","type":"quantitative","legend":null,"scale":{"type":"log","domain":[141,250,450,800,1400,2500,4500,5800],"range":["#ECB176","#EDB389","#EEB89C","#EFC0AF","#F0CBC2","#F1D9D6","#F2EAEA","#F2F2F2"],"interpolate":"rgb","clamp":true}}}},
 {"data":{"name":"lines"},"mark":{"type":"line","color":"black","strokeWidth":1.1,"clip":true},
  "encoding":{"detail":{"field":"line","type":"nominal"},"order":{"value":null}}},
 {"data":{"name":"a0"},"encoding":{"text":{"field":"lev","type":"nominal"}},"layer":[
  {"mark":{"type":"text","style":"halo","angle":0},"encoding":{"fill":{"field":"lev","type":"quantitative","legend":null,"scale":{"type":"log","domain":[141,250,450,800,1400,2500,4500,5800],"range":["#ECB176","#EDB389","#EEB89C","#EFC0AF","#F0CBC2","#F1D9D6","#F2EAEA","#F2F2F2"],"interpolate":"rgb","clamp":true}},"stroke":{"field":"lev","type":"quantitative","legend":null,"scale":{"type":"log","domain":[141,250,450,800,1400,2500,4500,5800],"range":["#ECB176","#EDB389","#EEB89C","#EFC0AF","#F0CBC2","#F1D9D6","#F2EAEA","#F2F2F2"],"interpolate":"rgb","clamp":true}}}},
  {"mark":{"type":"text","style":"lab","angle":0}}]},
 {"data":{"name":"p24"},"encoding":{"text":{"field":"lev","type":"nominal"}},"layer":[
  {"mark":{"type":"text","style":"halo","angle":24},"encoding":{"fill":{"field":"lev","type":"quantitative","legend":null,"scale":{"type":"log","domain":[141,250,450,800,1400,2500,4500,5800],"range":["#ECB176","#EDB389","#EEB89C","#EFC0AF","#F0CBC2","#F1D9D6","#F2EAEA","#F2F2F2"],"interpolate":"rgb","clamp":true}},"stroke":{"field":"lev","type":"quantitative","legend":null,"scale":{"type":"log","domain":[141,250,450,800,1400,2500,4500,5800],"range":["#ECB176","#EDB389","#EEB89C","#EFC0AF","#F0CBC2","#F1D9D6","#F2EAEA","#F2F2F2"],"interpolate":"rgb","clamp":true}}}},
  {"mark":{"type":"text","style":"lab","angle":24}}]},
 {"data":{"name":"p30"},"encoding":{"text":{"field":"lev","type":"nominal"}},"layer":[
  {"mark":{"type":"text","style":"halo","angle":30},"encoding":{"fill":{"field":"lev","type":"quantitative","legend":null,"scale":{"type":"log","domain":[141,250,450,800,1400,2500,4500,5800],"range":["#ECB176","#EDB389","#EEB89C","#EFC0AF","#F0CBC2","#F1D9D6","#F2EAEA","#F2F2F2"],"interpolate":"rgb","clamp":true}},"stroke":{"field":"lev","type":"quantitative","legend":null,"scale":{"type":"log","domain":[141,250,450,800,1400,2500,4500,5800],"range":["#ECB176","#EDB389","#EEB89C","#EFC0AF","#F0CBC2","#F1D9D6","#F2EAEA","#F2F2F2"],"interpolate":"rgb","clamp":true}}}},
  {"mark":{"type":"text","style":"lab","angle":30}}]},
 {"data":{"name":"p37"},"encoding":{"text":{"field":"lev","type":"nominal"}},"layer":[
  {"mark":{"type":"text","style":"halo","angle":37},"encoding":{"fill":{"field":"lev","type":"quantitative","legend":null,"scale":{"type":"log","domain":[141,250,450,800,1400,2500,4500,5800],"range":["#ECB176","#EDB389","#EEB89C","#EFC0AF","#F0CBC2","#F1D9D6","#F2EAEA","#F2F2F2"],"interpolate":"rgb","clamp":true}},"stroke":{"field":"lev","type":"quantitative","legend":null,"scale":{"type":"log","domain":[141,250,450,800,1400,2500,4500,5800],"range":["#ECB176","#EDB389","#EEB89C","#EFC0AF","#F0CBC2","#F1D9D6","#F2EAEA","#F2F2F2"],"interpolate":"rgb","clamp":true}}}},
  {"mark":{"type":"text","style":"lab","angle":37}}]},
 {"data":{"name":"p44"},"encoding":{"text":{"field":"lev","type":"nominal"}},"layer":[
  {"mark":{"type":"text","style":"halo","angle":44},"encoding":{"fill":{"field":"lev","type":"quantitative","legend":null,"scale":{"type":"log","domain":[141,250,450,800,1400,2500,4500,5800],"range":["#ECB176","#EDB389","#EEB89C","#EFC0AF","#F0CBC2","#F1D9D6","#F2EAEA","#F2F2F2"],"interpolate":"rgb","clamp":true}},"stroke":{"field":"lev","type":"quantitative","legend":null,"scale":{"type":"log","domain":[141,250,450,800,1400,2500,4500,5800],"range":["#ECB176","#EDB389","#EEB89C","#EFC0AF","#F0CBC2","#F1D9D6","#F2EAEA","#F2F2F2"],"interpolate":"rgb","clamp":true}}}},
  {"mark":{"type":"text","style":"lab","angle":44}}]},
 {"data":{"name":"p51"},"encoding":{"text":{"field":"lev","type":"nominal"}},"layer":[
  {"mark":{"type":"text","style":"halo","angle":51},"encoding":{"fill":{"field":"lev","type":"quantitative","legend":null,"scale":{"type":"log","domain":[141,250,450,800,1400,2500,4500,5800],"range":["#ECB176","#EDB389","#EEB89C","#EFC0AF","#F0CBC2","#F1D9D6","#F2EAEA","#F2F2F2"],"interpolate":"rgb","clamp":true}},"stroke":{"field":"lev","type":"quantitative","legend":null,"scale":{"type":"log","domain":[141,250,450,800,1400,2500,4500,5800],"range":["#ECB176","#EDB389","#EEB89C","#EFC0AF","#F0CBC2","#F1D9D6","#F2EAEA","#F2F2F2"],"interpolate":"rgb","clamp":true}}}},
  {"mark":{"type":"text","style":"lab","angle":51}}]},
 {"data":{"name":"p64"},"encoding":{"text":{"field":"lev","type":"nominal"}},"layer":[
  {"mark":{"type":"text","style":"halo","angle":64},"encoding":{"fill":{"field":"lev","type":"quantitative","legend":null,"scale":{"type":"log","domain":[141,250,450,800,1400,2500,4500,5800],"range":["#ECB176","#EDB389","#EEB89C","#EFC0AF","#F0CBC2","#F1D9D6","#F2EAEA","#F2F2F2"],"interpolate":"rgb","clamp":true}},"stroke":{"field":"lev","type":"quantitative","legend":null,"scale":{"type":"log","domain":[141,250,450,800,1400,2500,4500,5800],"range":["#ECB176","#EDB389","#EEB89C","#EFC0AF","#F0CBC2","#F1D9D6","#F2EAEA","#F2F2F2"],"interpolate":"rgb","clamp":true}}}},
  {"mark":{"type":"text","style":"lab","angle":64}}]},
 {"data":{"name":"m25"},"encoding":{"text":{"field":"lev","type":"nominal"}},"layer":[
  {"mark":{"type":"text","style":"halo","angle":-25},"encoding":{"fill":{"field":"lev","type":"quantitative","legend":null,"scale":{"type":"log","domain":[141,250,450,800,1400,2500,4500,5800],"range":["#ECB176","#EDB389","#EEB89C","#EFC0AF","#F0CBC2","#F1D9D6","#F2EAEA","#F2F2F2"],"interpolate":"rgb","clamp":true}},"stroke":{"field":"lev","type":"quantitative","legend":null,"scale":{"type":"log","domain":[141,250,450,800,1400,2500,4500,5800],"range":["#ECB176","#EDB389","#EEB89C","#EFC0AF","#F0CBC2","#F1D9D6","#F2EAEA","#F2F2F2"],"interpolate":"rgb","clamp":true}}}},
  {"mark":{"type":"text","style":"lab","angle":-25}}]},
 {"data":{"name":"m33"},"encoding":{"text":{"field":"lev","type":"nominal"}},"layer":[
  {"mark":{"type":"text","style":"halo","angle":-33},"encoding":{"fill":{"field":"lev","type":"quantitative","legend":null,"scale":{"type":"log","domain":[141,250,450,800,1400,2500,4500,5800],"range":["#ECB176","#EDB389","#EEB89C","#EFC0AF","#F0CBC2","#F1D9D6","#F2EAEA","#F2F2F2"],"interpolate":"rgb","clamp":true}},"stroke":{"field":"lev","type":"quantitative","legend":null,"scale":{"type":"log","domain":[141,250,450,800,1400,2500,4500,5800],"range":["#ECB176","#EDB389","#EEB89C","#EFC0AF","#F0CBC2","#F1D9D6","#F2EAEA","#F2F2F2"],"interpolate":"rgb","clamp":true}}}},
  {"mark":{"type":"text","style":"lab","angle":-33}}]},
 {"data":{"name":"m43"},"encoding":{"text":{"field":"lev","type":"nominal"}},"layer":[
  {"mark":{"type":"text","style":"halo","angle":-43},"encoding":{"fill":{"field":"lev","type":"quantitative","legend":null,"scale":{"type":"log","domain":[141,250,450,800,1400,2500,4500,5800],"range":["#ECB176","#EDB389","#EEB89C","#EFC0AF","#F0CBC2","#F1D9D6","#F2EAEA","#F2F2F2"],"interpolate":"rgb","clamp":true}},"stroke":{"field":"lev","type":"quantitative","legend":null,"scale":{"type":"log","domain":[141,250,450,800,1400,2500,4500,5800],"range":["#ECB176","#EDB389","#EEB89C","#EFC0AF","#F0CBC2","#F1D9D6","#F2EAEA","#F2F2F2"],"interpolate":"rgb","clamp":true}}}},
  {"mark":{"type":"text","style":"lab","angle":-43}}]},
 {"data":{"name":"m54"},"encoding":{"text":{"field":"lev","type":"nominal"}},"layer":[
  {"mark":{"type":"text","style":"halo","angle":-54},"encoding":{"fill":{"field":"lev","type":"quantitative","legend":null,"scale":{"type":"log","domain":[141,250,450,800,1400,2500,4500,5800],"range":["#ECB176","#EDB389","#EEB89C","#EFC0AF","#F0CBC2","#F1D9D6","#F2EAEA","#F2F2F2"],"interpolate":"rgb","clamp":true}},"stroke":{"field":"lev","type":"quantitative","legend":null,"scale":{"type":"log","domain":[141,250,450,800,1400,2500,4500,5800],"range":["#ECB176","#EDB389","#EEB89C","#EFC0AF","#F0CBC2","#F1D9D6","#F2EAEA","#F2F2F2"],"interpolate":"rgb","clamp":true}}}},
  {"mark":{"type":"text","style":"lab","angle":-54}}]},
 {"data":{"name":"m65"},"encoding":{"text":{"field":"lev","type":"nominal"}},"layer":[
  {"mark":{"type":"text","style":"halo","angle":-65},"encoding":{"fill":{"field":"lev","type":"quantitative","legend":null,"scale":{"type":"log","domain":[141,250,450,800,1400,2500,4500,5800],"range":["#ECB176","#EDB389","#EEB89C","#EFC0AF","#F0CBC2","#F1D9D6","#F2EAEA","#F2F2F2"],"interpolate":"rgb","clamp":true}},"stroke":{"field":"lev","type":"quantitative","legend":null,"scale":{"type":"log","domain":[141,250,450,800,1400,2500,4500,5800],"range":["#ECB176","#EDB389","#EEB89C","#EFC0AF","#F0CBC2","#F1D9D6","#F2EAEA","#F2F2F2"],"interpolate":"rgb","clamp":true}}}},
  {"mark":{"type":"text","style":"lab","angle":-65}}]},
 {"data":{"values":[{"b":1,"s":1}]},"mark":{"type":"circle","size":800,"color":"#FF0000","opacity":1}}
]
}
